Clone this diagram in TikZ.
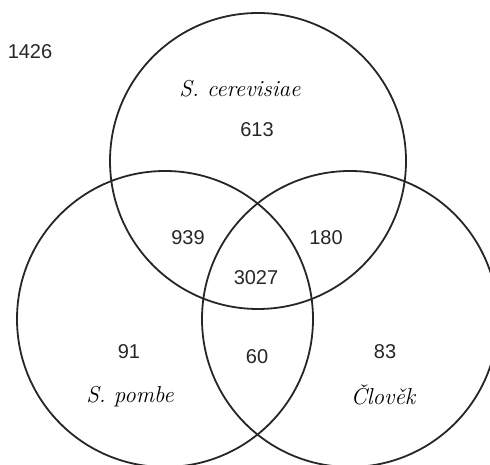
\documentclass[tikz,border=0pt]{standalone}
\usepackage{fontspec}
\newfontfamily\countfont{Liberation Sans}
\usepackage{tikz}
\usetikzlibrary{positioning}
\tikzset{
  setcircle/.style={draw=black!85, line width=1.8pt},
  countlabel/.style={inner sep=0pt, font=\countfont\fontsize{20}{24}\selectfont, text=black!85},
  setlabel/.style={inner sep=0pt, font=\itshape\fontsize{23}{27}\selectfont, text=black},
}

\begin{document}
\begin{tikzpicture}[x=1pt, y=1pt]
  \useasboundingbox (0,0) rectangle (490,465);
  % the three sets
  \draw[setcircle] (258,304) circle[radius=148];
  \draw[setcircle] (165,146) circle[radius=148];
  \draw[setcircle] (350,146) circle[radius=148];
  % set names
  \node[setlabel] (cer) at (240,376) {S. cerevisiae};
  \node[setlabel] (pom) at (130,68) {S. pombe};
  \node[setlabel] (hum) at (383,70) {Člověk};
  % counts
  \node[countlabel] (outside) at (30,413) {1426};
  \node[countlabel] (onlycer) at (257,335) {613};
  \node[countlabel] (cerpom) at (188,227) {939};
  \node[countlabel] (cerhum) at (326,227) {180};
  \node[countlabel] (all) at (256,187) {3027};
  \node[countlabel] (onlypom) at (129,113) {91};
  \node[countlabel] (pomhum) at (257,108) {60};
  \node[countlabel] (onlyhum) at (385,113) {83};
\end{tikzpicture}
\end{document}
